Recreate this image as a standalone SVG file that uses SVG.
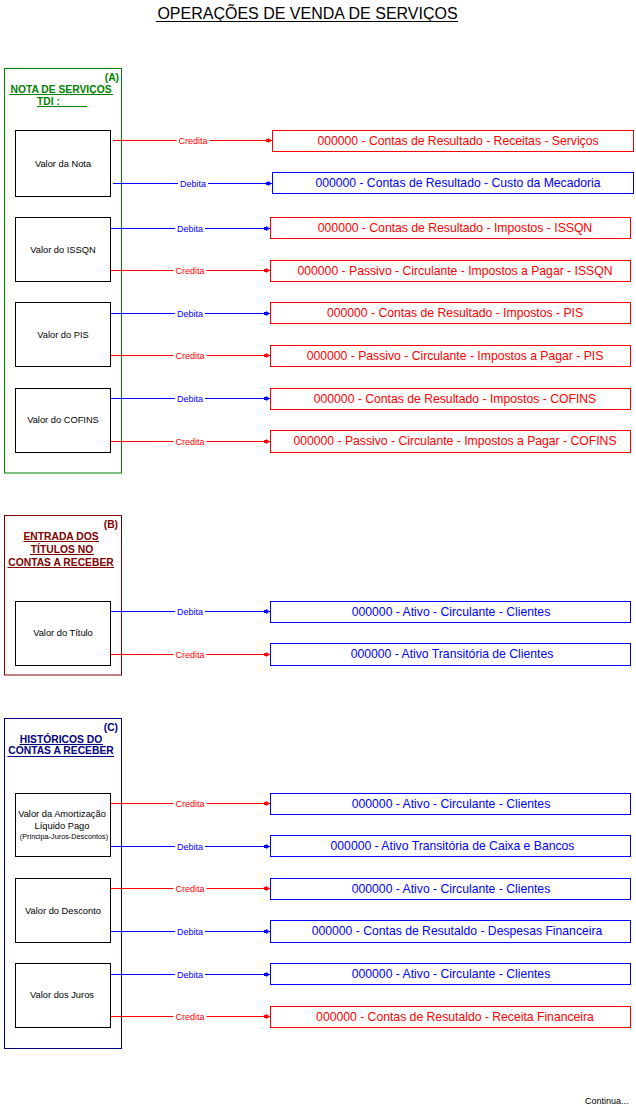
<svg xmlns="http://www.w3.org/2000/svg" width="636" height="1116" viewBox="0 0 636 1116">
<style>
text{font-family:"Liberation Sans",Arial,sans-serif}
.title{font-size:16px;fill:#000;text-anchor:middle}
.hd{font-size:10.3px;font-weight:bold;text-anchor:middle}
.tag{font-size:10.3px;font-weight:bold;text-anchor:end}
.node{fill:#fff;stroke:#000;stroke-width:1}
.nt{font-size:9.3px;fill:#000;text-anchor:middle}
.ns{font-size:7.3px;fill:#000;text-anchor:middle}
.acc{fill:#fff;stroke-width:1}
.accr{stroke:#f00}
.accb{stroke:#00f}
.at{font-size:12.2px;text-anchor:middle}
.tr{fill:#f00}
.tb{fill:#00f}
.cr{stroke:#f00;stroke-width:1;fill:none;marker-end:url(#ar)}
.cb{stroke:#00f;stroke-width:1;fill:none;marker-end:url(#ab)}
.lbl{font-size:9px;text-anchor:middle}
.lbg{fill:#fff}
</style>
<defs>
<marker id="ar" markerWidth="6" markerHeight="6" refX="6" refY="3" orient="auto" markerUnits="userSpaceOnUse"><path d="M0,1.5 L2,1.5 L2,0.5 L6,3 L2,5.5 L2,4.5 L0,4.5 Z" fill="#f00"/></marker>
<marker id="ab" markerWidth="6" markerHeight="6" refX="6" refY="3" orient="auto" markerUnits="userSpaceOnUse"><path d="M0,1.5 L2,1.5 L2,0.5 L6,3 L2,5.5 L2,4.5 L0,4.5 Z" fill="#00f"/></marker>
</defs>

<g id="title">
<text class="title" x="307.5" y="19">OPERAÇÕES DE VENDA DE SERVIÇOS</text>
<line x1="156" y1="21.5" x2="458" y2="21.5" stroke="#000"/>
</g>

<!-- Section A -->
<g id="sectionA">
<rect x="4.5" y="68.5" width="117" height="404.5" fill="none" stroke="#008000"/>
<text class="tag" x="119" y="80.5" fill="#008000">(A)</text>
<text class="hd" x="61" y="92.5" fill="#008000">NOTA DE SERVIÇOS</text>
<line x1="9.5" y1="94.5" x2="113" y2="94.5" stroke="#008000"/>
<text x="37" y="104.5" font-size="10.3" font-weight="bold" fill="#008000">TDI :</text>
<line x1="37" y1="106.5" x2="87" y2="106.5" stroke="#008000"/>
</g>
<g id="nodeNota"><rect class="node" x="15.5" y="130.5" width="95" height="66"/><text class="nt" x="63" y="166.5">Valor da Nota</text></g>
<g id="nodeISSQN"><rect class="node" x="15.5" y="217.5" width="95" height="64"/><text class="nt" x="63" y="252.5">Valor do ISSQN</text></g>
<g id="nodePIS"><rect class="node" x="15.5" y="302.5" width="95" height="64"/><text class="nt" x="63" y="337.5">Valor do PIS</text></g>
<g id="nodeCOFINS"><rect class="node" x="15.5" y="388.5" width="95" height="64"/><text class="nt" x="63" y="422.5">Valor do COFINS</text></g>

<g id="accA1"><rect class="acc accr" x="272.5" y="130.5" width="361" height="21"/><text class="at tr" x="458" y="144.8">000000 - Contas de Resultado - Receitas - Serviços</text></g>
<g id="accA2"><rect class="acc accb" x="272.5" y="172.5" width="361" height="21"/><text class="at tb" x="458" y="186.8">000000 - Contas de Resultado - Custo da Mecadoria</text></g>
<g id="accA3"><rect class="acc accr" x="270.5" y="217.5" width="360" height="21"/><text class="at tr" x="455" y="231.8">000000 - Contas de Resultado - Impostos - ISSQN</text></g>
<g id="accA4"><rect class="acc accr" x="270.5" y="260.5" width="360" height="21"/><text class="at tr" x="455" y="274.8">000000 - Passivo - Circulante - Impostos a Pagar - ISSQN</text></g>
<g id="accA5"><rect class="acc accr" x="270.5" y="302.5" width="360" height="21"/><text class="at tr" x="455" y="316.8">000000 - Contas de Resultado - Impostos - PIS</text></g>
<g id="accA6"><rect class="acc accr" x="270.5" y="345.5" width="360" height="21"/><text class="at tr" x="455" y="359.8">000000 - Passivo - Circulante - Impostos a Pagar - PIS</text></g>
<g id="accA7"><rect class="acc accr" x="270.5" y="388.5" width="360" height="21"/><text class="at tr" x="455" y="402.8">000000 - Contas de Resultado - Impostos - COFINS</text></g>
<g id="accA8"><rect class="acc accr" x="270.5" y="430.5" width="360" height="22"/><text class="at tr" x="455" y="445.3">000000 - Passivo - Circulante - Impostos a Pagar - COFINS</text></g>

<!-- Section B -->
<g id="sectionB">
<rect x="4.5" y="515.5" width="117" height="159.5" fill="none" stroke="#800000"/>
<text class="tag" x="118" y="528" fill="#800000">(B)</text>
<text class="hd" x="61" y="540" fill="#800000">ENTRADA DOS</text>
<line x1="23.5" y1="541.5" x2="99" y2="541.5" stroke="#800000"/>
<text class="hd" x="62" y="552.8" fill="#800000">TÍTULOS NO</text>
<line x1="30" y1="554.5" x2="94" y2="554.5" stroke="#800000"/>
<text class="hd" x="61" y="565.6" fill="#800000">CONTAS A RECEBER</text>
<line x1="7.5" y1="567.5" x2="114" y2="567.5" stroke="#800000"/>
</g>
<g id="nodeTitulo"><rect class="node" x="15.5" y="601.5" width="95" height="64"/><text class="nt" x="63" y="636">Valor do Título</text></g>
<g id="accB1"><rect class="acc accb" x="270.5" y="601.5" width="360" height="21"/><text class="at tb" x="451" y="615.8">000000 - Ativo - Circulante - Clientes</text></g>
<g id="accB2"><rect class="acc accb" x="270.5" y="643.5" width="360" height="22"/><text class="at tb" x="452" y="658.3">000000 - Ativo Transitória de Clientes</text></g>

<!-- Section C -->
<g id="sectionC">
<rect x="4.5" y="718.5" width="117" height="330" fill="none" stroke="#000080"/>
<text class="tag" x="118" y="730.5" fill="#000080">(C)</text>
<text class="hd" x="61" y="742.6" fill="#000080">HISTÓRICOS DO</text>
<line x1="19.5" y1="744.5" x2="103" y2="744.5" stroke="#000080"/>
<text class="hd" x="61" y="754.4" fill="#000080">CONTAS A RECEBER</text>
<line x1="7.5" y1="756.5" x2="114" y2="756.5" stroke="#000080"/>
</g>
<g id="nodeAmort"><rect class="node" x="15.5" y="793.5" width="95" height="63"/>
<text class="nt" x="62" y="817.2">Valor da Amortização</text>
<text class="nt" x="62" y="829.2">Líquido Pago</text>
<text class="ns" x="64" y="838.6">(Principa-Juros-Descontos)</text></g>
<g id="nodeDesconto"><rect class="node" x="15.5" y="878.5" width="95" height="64"/><text class="nt" x="63" y="913.5">Valor do Desconto</text></g>
<g id="nodeJuros"><rect class="node" x="15.5" y="963.5" width="95" height="64"/><text class="nt" x="62" y="998">Valor dos Juros</text></g>

<g id="accC1"><rect class="acc accb" x="270.5" y="793.5" width="360" height="21"/><text class="at tb" x="451" y="807.8">000000 - Ativo - Circulante - Clientes</text></g>
<g id="accC2"><rect class="acc accb" x="270.5" y="835.5" width="360" height="21"/><text class="at tb" x="452.5" y="849.8">000000 - Ativo Transitória de Caixa e Bancos</text></g>
<g id="accC3"><rect class="acc accb" x="270.5" y="878.5" width="360" height="21"/><text class="at tb" x="451" y="892.8">000000 - Ativo - Circulante - Clientes</text></g>
<g id="accC4"><rect class="acc accb" x="270.5" y="920.5" width="360" height="22"/><text class="at tb" x="457" y="935.3">000000 - Contas de Resutaldo - Despesas Financeira</text></g>
<g id="accC5"><rect class="acc accb" x="270.5" y="963.5" width="360" height="21"/><text class="at tb" x="451" y="977.8">000000 - Ativo - Circulante - Clientes</text></g>
<g id="accC6"><rect class="acc accr" x="270.5" y="1006.5" width="360" height="21"/><text class="at tr" x="455" y="1020.8">000000 - Contas de Resutaldo - Receita Financeira</text></g>

<!-- Connectors -->
<g id="connectors">
<path class="cr" d="M113,140.5 H272"/>
<path class="cb" d="M113,183.5 H272"/>
<path class="cb" d="M110.5,228.5 H270"/>
<path class="cr" d="M110.5,270.5 H270"/>
<path class="cb" d="M110.5,313.5 H270"/>
<path class="cr" d="M110.5,355.5 H270"/>
<path class="cb" d="M110.5,398.5 H270"/>
<path class="cr" d="M110.5,441.5 H270"/>
<path class="cb" d="M110.5,611.5 H270"/>
<path class="cr" d="M110.5,654.5 H270"/>
<path class="cr" d="M110.5,803.5 H270"/>
<path class="cb" d="M110.5,846.5 H270"/>
<path class="cr" d="M110.5,888.5 H270"/>
<path class="cb" d="M110.5,931.5 H270"/>
<path class="cb" d="M110.5,974.5 H270"/>
<path class="cr" d="M110.5,1016.5 H270"/>

<rect class="lbg" x="176.5" y="135" width="33" height="11"/><text class="lbl tr" x="193" y="143.5">Credita</text>
<rect class="lbg" x="178" y="178" width="30" height="11"/><text class="lbl tb" x="193" y="186.5">Debita</text>
<rect class="lbg" x="175" y="223" width="30" height="11"/><text class="lbl tb" x="190" y="231.5">Debita</text>
<rect class="lbg" x="173.5" y="265" width="33" height="11"/><text class="lbl tr" x="190" y="273.5">Credita</text>
<rect class="lbg" x="175" y="308" width="30" height="11"/><text class="lbl tb" x="190" y="316.5">Debita</text>
<rect class="lbg" x="173.5" y="350" width="33" height="11"/><text class="lbl tr" x="190" y="358.5">Credita</text>
<rect class="lbg" x="175" y="393" width="30" height="11"/><text class="lbl tb" x="190" y="401.5">Debita</text>
<rect class="lbg" x="173.5" y="436" width="33" height="11"/><text class="lbl tr" x="190" y="444.5">Credita</text>
<rect class="lbg" x="175" y="606" width="30" height="11"/><text class="lbl tb" x="190" y="614.5">Debita</text>
<rect class="lbg" x="173.5" y="649" width="33" height="11"/><text class="lbl tr" x="190" y="657.5">Credita</text>
<rect class="lbg" x="173.5" y="798" width="33" height="11"/><text class="lbl tr" x="190" y="806.5">Credita</text>
<rect class="lbg" x="175" y="841" width="30" height="11"/><text class="lbl tb" x="190" y="849.5">Debita</text>
<rect class="lbg" x="173.5" y="883" width="33" height="11"/><text class="lbl tr" x="190" y="891.5">Credita</text>
<rect class="lbg" x="175" y="926" width="30" height="11"/><text class="lbl tb" x="190" y="934.5">Debita</text>
<rect class="lbg" x="175" y="969" width="30" height="11"/><text class="lbl tb" x="190" y="977.5">Debita</text>
<rect class="lbg" x="173.5" y="1011" width="33" height="11"/><text class="lbl tr" x="190" y="1019.5">Credita</text>
</g>

<g id="footer"><text x="585" y="1104" font-size="9" fill="#000">Continua...</text></g>
</svg>
